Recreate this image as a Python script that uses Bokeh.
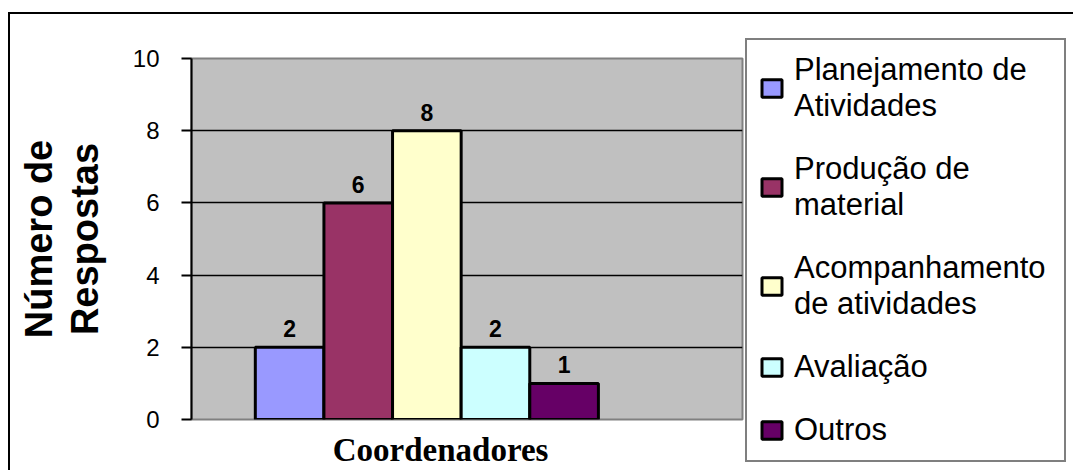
from bokeh.plotting import figure
from bokeh.models import (ColumnDataSource, Range1d, FixedTicker, Legend, LegendItem)
from bokeh.core.properties import value
from bokeh.embed import file_html
from bokeh.resources import INLINE

# ---- data ----
series = ["Planejamento de\nAtividades", "Produção de\nmaterial",
          "Acompanhamento\nde atividades", "Avaliação", "Outros"]
counts = [2, 6, 8, 2, 1]
colors = ["#9999FF", "#993366", "#FFFFCC", "#CCFFFF", "#660066"]
category = "Coordenadores"
y_ticks = [0, 2, 4, 6, 8, 10]
y_title = "Número de\nRespostas"

src = ColumnDataSource(dict(
    x=list(range(len(series))),
    value=counts,
    color=colors,
    label=[str(c) for c in counts],
))

p = figure(width=1053, height=456, frame_width=551, frame_height=361,
           output_backend="svg", toolbar_location=None,
           x_range=Range1d(-1.43, 6.6), y_range=Range1d(0, 10),
           min_border_left=181, min_border_top=44, min_border_right=321,
           min_border_bottom=51)
p.styles = {"border-left": "2px solid black", "border-top": "2px solid black",
            "margin-top": "12px", "margin-left": "8px"}

p.background_fill_color = "#C0C0C0"
p.border_fill_color = "white"
p.outline_line_color = "#808080"
p.outline_line_width = 2

# y axis
p.yaxis.ticker = FixedTicker(ticks=y_ticks)
p.yaxis.axis_line_color = "black"
p.yaxis.axis_line_width = 2
p.yaxis.major_tick_line_color = "black"
p.yaxis.major_tick_line_width = 2
p.yaxis.major_tick_out = 10
p.yaxis.major_tick_in = 0
p.yaxis.minor_tick_line_color = None
p.yaxis.major_label_text_font = "Liberation Sans"
p.yaxis.major_label_text_font_size = "24px"
p.yaxis.major_label_text_color = "black"
p.yaxis.major_label_standoff = 22
p.yaxis.axis_label = y_title
p.yaxis.axis_label_text_font = "Liberation Sans"
p.yaxis.axis_label_text_font_style = "bold"
p.yaxis.axis_label_text_font_size = "38px"
p.yaxis.axis_label_text_color = "black"
p.yaxis.axis_label_standoff = 24
p.yaxis.axis_label_text_line_height = 1.1

# x axis: single category label
cat_pos = 2.2
p.xaxis.ticker = FixedTicker(ticks=[cat_pos])
p.xaxis.major_label_overrides = {cat_pos: category}
p.xaxis.axis_line_color = None
p.xaxis.major_tick_line_color = None
p.xaxis.minor_tick_line_color = None
p.xaxis.major_label_text_font = "Liberation Serif"
p.xaxis.major_label_text_font_style = "bold"
p.xaxis.major_label_text_font_size = "33px"
p.xaxis.major_label_text_color = "black"
p.xaxis.major_label_standoff = 6

p.xgrid.grid_line_color = None
p.ygrid.grid_line_color = "black"
p.ygrid.grid_line_width = 1.5

bars = p.vbar(x="x", top="value", bottom=0, width=1, source=src,
              fill_color="color", line_color="black", line_width=3)

p.text(x="x", y="value", text="label", source=src,
       text_align="center", text_baseline="bottom", y_offset=-10,
       text_font=value("Liberation Sans"), text_font_style="bold",
       text_font_size="23px", text_color="black")

legend = Legend(
    items=[LegendItem(label=s, renderers=[bars], index=i) for i, s in enumerate(series)],
    location=(3, -43),
    border_line_color="black", border_line_width=2,
    background_fill_color="white", background_fill_alpha=1,
    label_text_font="Liberation Sans", label_text_font_size="31px",
    label_text_color="black", label_text_line_height=1.17,
    glyph_width=25, glyph_height=22, label_standoff=10, label_width=258,
    padding=12, spacing=27, margin=0,
)
p.add_layout(legend, "right")

open("out.html", "w").write(file_html(p, INLINE))
